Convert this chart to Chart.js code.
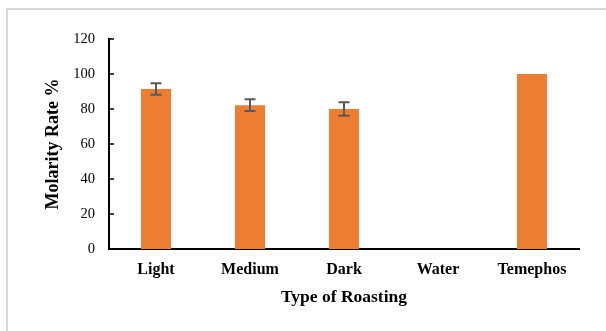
<!DOCTYPE html>
<html lang="en">
<head>
  <meta charset="UTF-8">
  <title>Molarity Rate</title>
  <script src="https://cdn.jsdelivr.net/npm/chart.js"></script>
  <style>
    html, body { margin: 0; background: #fff; overflow: hidden; }
  </style>
</head>
<body>
<canvas id="chart" width="606" height="331"></canvas>
<script>
  // data
  const categories = ['Light', 'Medium', 'Dark', 'Water', 'Temephos'];
  const rates = [91.4, 82.2, 80, 0, 100];
  const errors = [3.3, 3.4, 3.9, 0, 0];

  const serif = '"Liberation Serif", "Times New Roman", serif';

  // light grey chart-area frame (left and top edges only are in view)
  const frame = {
    id: 'frame',
    beforeDraw(chart) {
      const ctx = chart.ctx;
      ctx.save();
      ctx.strokeStyle = '#d9d9d9';
      ctx.lineWidth = 2;
      ctx.beginPath();
      ctx.moveTo(7, chart.height);
      ctx.lineTo(7, 9);
      ctx.lineTo(chart.width, 9);
      ctx.stroke();
      ctx.restore();
    }
  };

  // error bars, drawn through the y scale
  const errorBars = {
    id: 'errorBars',
    afterDatasetsDraw(chart) {
      const ctx = chart.ctx;
      const y = chart.scales.y;
      const meta = chart.getDatasetMeta(0);
      ctx.save();
      ctx.strokeStyle = '#595959';
      ctx.lineWidth = 2;
      meta.data.forEach((bar, i) => {
        if (!errors[i]) return;
        const top = y.getPixelForValue(rates[i] + errors[i]);
        const bot = y.getPixelForValue(rates[i] - errors[i]);
        ctx.beginPath();
        ctx.moveTo(bar.x, top); ctx.lineTo(bar.x, bot);
        ctx.moveTo(bar.x - 5.5, top); ctx.lineTo(bar.x + 5.5, top);
        ctx.moveTo(bar.x - 5.5, bot); ctx.lineTo(bar.x + 5.5, bot);
        ctx.stroke();
      });
      ctx.restore();
    }
  };

  // short tick marks pointing into the plot
  const innerTicks = {
    id: 'innerTicks',
    afterDraw(chart) {
      const ctx = chart.ctx;
      const y = chart.scales.y;
      const left = chart.chartArea.left;
      ctx.save();
      ctx.strokeStyle = '#000';
      ctx.lineWidth = 1.5;
      y.ticks.forEach(t => {
        const py = y.getPixelForValue(t.value);
        ctx.beginPath();
        ctx.moveTo(left, py); ctx.lineTo(left + 5, py);
        ctx.stroke();
      });
      ctx.restore();
    }
  };

  new Chart(document.getElementById('chart'), {
    type: 'bar',
    data: {
      labels: categories,
      datasets: [{
        data: rates,
        backgroundColor: '#ED7D31',
        borderWidth: 0,
        barPercentage: 0.32,
        categoryPercentage: 1.0
      }]
    },
    options: {
      responsive: false,
      animation: false,
      layout: { padding: { top: 39, right: 27, bottom: 0, left: 0 } },
      plugins: { legend: { display: false }, tooltip: { enabled: false } },
      scales: {
        x: {
          afterFit(s) { s.height = 82; },
          grid: { display: false },
          border: { display: true, color: '#000', width: 2 },
          ticks: { color: '#000', padding: 3, font: { family: serif, size: 16, weight: 'bold' } },
          title: {
            display: true, text: 'Type of Roasting', color: '#000',
            font: { family: serif, size: 17.5, weight: 'bold' },
            padding: { top: 0, bottom: 23 }
          }
        },
        y: {
          min: 0, max: 120,
          afterFit(s) { s.width = 109; },
          grid: { display: false },
          border: { display: true, color: '#000', width: 2 },
          ticks: { stepSize: 20, color: '#000', padding: 6, font: { family: serif, size: 14.5 } },
          title: {
            display: true, text: 'Molarity Rate %', color: '#000',
            font: { family: serif, size: 18, weight: 'bold' },
            padding: { top: 43, bottom: 0 }
          }
        }
      }
    },
    plugins: [frame, errorBars, innerTicks]
  });
</script>
</body>
</html>
